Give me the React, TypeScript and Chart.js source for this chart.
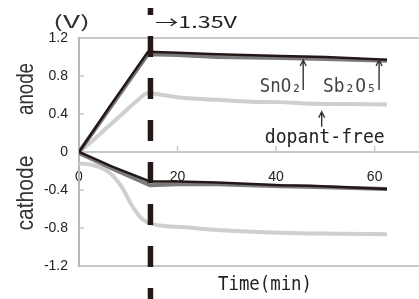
import React, { useEffect, useRef } from 'react';
import { Chart, registerables } from 'chart.js';

Chart.register(...registerables);

// ---- data ----
const xTicks = [0, 20, 40, 60];
const yTicks = [-1.2, -0.8, -0.4, 0, 0.4, 0.8, 1.2];
const markerTime = 14.5;

const darkAnodeT = [0, 6, 14, 20, 28, 41, 50, 62.5];
const darkAnodeV = [0, 0.46, 1.055, 1.045, 1.03, 1.01, 1.0, 0.97];
const grayAnodeT = [0, 6, 14, 20, 28, 41, 50, 62.5];
const grayAnodeV = [0, 0.44, 1.03, 1.02, 1.0, 0.99, 0.98, 0.96];
const lightAnodeT = [0, 3, 6, 9, 12, 14, 17, 21, 28, 35, 41, 46, 52, 62.5];
const lightAnodeV = [0, 0.13, 0.27, 0.41, 0.55, 0.62, 0.6, 0.57, 0.55, 0.53, 0.525, 0.51, 0.505, 0.5];

const darkCathT = [0, 7, 14.4, 20, 28, 41, 47, 62.5];
const darkCathV = [0, -0.16, -0.31, -0.31, -0.32, -0.35, -0.355, -0.39];
const grayCathT = [0, 7, 14.4, 20, 28, 41, 50, 62.5];
const grayCathV = [-0.01, -0.18, -0.35, -0.34, -0.34, -0.36, -0.37, -0.39];
const lightCathT = [0, 3, 6, 8.7, 10.7, 12.7, 14.4, 17.4, 21, 28, 41, 52, 62.5];
const lightCathV = [-0.12, -0.14, -0.21, -0.37, -0.56, -0.7, -0.75, -0.78, -0.79, -0.82, -0.85, -0.86, -0.865];

const pts = (t: number[], v: number[]) => t.map((x, i) => ({ x, y: v[i] }));

const DARK = '#231815';
const GRAY = '#7b7b7b';
const LIGHT = '#cfcfcf';

function fitText(
  ctx: CanvasRenderingContext2D,
  text: string,
  x: number,
  y: number,
  width: number,
  font: string,
  color: string,
  align: CanvasTextAlign = 'left',
  rotate = false
) {
  ctx.save();
  ctx.font = font;
  ctx.fillStyle = color;
  ctx.textBaseline = 'alphabetic';
  ctx.textAlign = align;
  const w = ctx.measureText(text).width;
  const s = width / w;
  ctx.translate(x, y);
  if (rotate) ctx.rotate(-Math.PI / 2);
  ctx.scale(s, 1);
  ctx.fillText(text, 0, 0);
  ctx.restore();
}

function arrow(ctx: CanvasRenderingContext2D, x: number, top: number, bottom: number) {
  ctx.save();
  ctx.strokeStyle = '#333';
  ctx.lineWidth = 1.4;
  ctx.beginPath();
  ctx.moveTo(x, bottom);
  ctx.lineTo(x, top);
  ctx.moveTo(x - 3, top + 6);
  ctx.lineTo(x, top);
  ctx.lineTo(x + 3, top + 6);
  ctx.stroke();
  ctx.restore();
}

const overlay = {
  id: 'overlay',
  afterDatasetsDraw(chart: any) {
    const { ctx, scales } = chart;
    const x = scales.x;
    const y = scales.y;
    const y0 = y.getPixelForValue(0);
    const left = chart.chartArea.left;
    ctx.save();
    ctx.strokeStyle = '#c8c8c8';
    ctx.lineWidth = 1.5;
    for (const t of xTicks.slice(1)) {
      const px = x.getPixelForValue(t);
      ctx.beginPath();
      ctx.moveTo(px, y0);
      ctx.lineTo(px, y0 - 6);
      ctx.stroke();
    }
    for (const v of yTicks) {
      if (v === 0 || Math.abs(v) === 1.2) continue;
      const py = y.getPixelForValue(v);
      ctx.beginPath();
      ctx.moveTo(left, py);
      ctx.lineTo(left + 5, py);
      ctx.stroke();
    }
    // dashed marker line
    const dx = x.getPixelForValue(markerTime);
    ctx.strokeStyle = DARK;
    ctx.lineWidth = 5.5;
    ctx.setLineDash([21, 21]);
    ctx.lineDashOffset = 14;
    ctx.beginPath();
    ctx.moveTo(dx, 8);
    ctx.lineTo(dx, chart.height);
    ctx.stroke();
    ctx.setLineDash([]);
    ctx.restore();

    // arrows
    arrow(ctx, x.getPixelForValue(45.5), y.getPixelForValue(0.968), y.getPixelForValue(0.653));
    arrow(ctx, x.getPixelForValue(60.9), y.getPixelForValue(0.968), y.getPixelForValue(0.653));
    arrow(ctx, x.getPixelForValue(49.25), y.getPixelForValue(0.424), y.getPixelForValue(0.266));

    const mono = '19px "DejaVu Sans Mono"';
    const annoBase = y.getPixelForValue(0.63);
    fitText(ctx, 'SnO₂', x.getPixelForValue(45.2), annoBase, 42, mono, '#444', 'right');
    fitText(ctx, 'Sb₂O₅', x.getPixelForValue(49.5), annoBase, 54, mono, '#444', 'left');
    fitText(ctx, 'dopant-free', x.getPixelForValue(37.7), y.getPixelForValue(0.095), 120, mono, '#222', 'left');

    fitText(ctx, '(V)', 53, 28, 37, '17px "Noto Sans CJK JP"', '#333', 'left');
    fitText(ctx, '→1.35V', 155, 28, 82, '16px "Noto Sans CJK JP"', '#222', 'left');
    fitText(ctx, 'anode', 33, 89, 52, '24px "Liberation Sans"', '#333', 'center', true);
    fitText(ctx, 'cathode', 33, 193, 75, '24px "Liberation Sans"', '#333', 'center', true);
    fitText(ctx, 'Time(min)', 218, 290, 94, mono, '#222', 'left');
  },
};

export default function App() {
  const ref = useRef<HTMLCanvasElement>(null);
  useEffect(() => {
    if (!ref.current) return;
    const ds = (data: any, color: string, width: number, smooth: boolean) => ({
      data,
      borderColor: color,
      backgroundColor: color,
      borderWidth: width,
      pointRadius: 0,
      tension: 0,
      cubicInterpolationMode: smooth ? 'monotone' : 'default',
      fill: false,
    });
    const chart = new Chart(ref.current, {
      type: 'line',
      data: {
        datasets: [
          ds(pts(darkAnodeT, darkAnodeV), DARK, 2.5, false),
          ds(pts(darkCathT, darkCathV), DARK, 2.5, false),
          ds(pts(grayAnodeT, grayAnodeV), GRAY, 4, false),
          ds(pts(grayCathT, grayCathV), GRAY, 4, false),
          ds(pts(lightAnodeT, lightAnodeV), LIGHT, 4, true),
          ds(pts(lightCathT, lightCathV), LIGHT, 4, true),
        ] as any,
      },
      options: {
        responsive: false,
        animation: false,
        layout: { padding: { top: 38, bottom: 33, left: 0, right: 0 } },
        plugins: { legend: { display: false }, tooltip: { enabled: false } },
        scales: {
          x: {
            type: 'linear',
            min: 0,
            max: 69,
            position: { y: 0 } as any,
            afterBuildTicks: (s: any) => {
              s.ticks = xTicks.map((v) => ({ value: v }));
            },
            grid: { display: false, drawTicks: false },
            border: { display: false },
            ticks: {
              padding: 17,
              color: '#222',
              maxRotation: 0,
              font: { family: 'Liberation Sans', size: 14 },
              callback: (v: any) => String(v),
            },
          },
          y: {
            type: 'linear',
            min: -1.2,
            max: 1.2,
            afterBuildTicks: (s: any) => {
              s.ticks = yTicks.map((v) => ({ value: v }));
            },
            afterFit: (s: any) => {
              s.width = 79;
            },
            grid: {
              drawTicks: false,
              lineWidth: 2,
              color: (c: any) => {
                const v = Math.round((c.tick?.value ?? 99) * 10) / 10;
                return v === 0 || v === 1.2 || v === -1.2 ? '#c8c8c8' : 'rgba(0,0,0,0)';
              },
            },
            border: { color: '#b8b8b8', width: 2 },
            ticks: {
              padding: 11,
              color: '#222',
              font: { family: 'Liberation Sans', size: 14 },
              callback: (v: any) => (Math.abs(v) < 1e-9 ? '0' : Number(v).toFixed(1)),
            },
          },
        },
      } as any,
      plugins: [overlay],
    });
    return () => chart.destroy();
  }, []);
  return (
    <div style={{ position: 'fixed', left: 0, top: 0, width: 419, height: 299, background: '#fff' }}>
      <canvas ref={ref} width={419} height={299} style={{ display: 'block', width: 419, height: 299 }} />
    </div>
  );
}
